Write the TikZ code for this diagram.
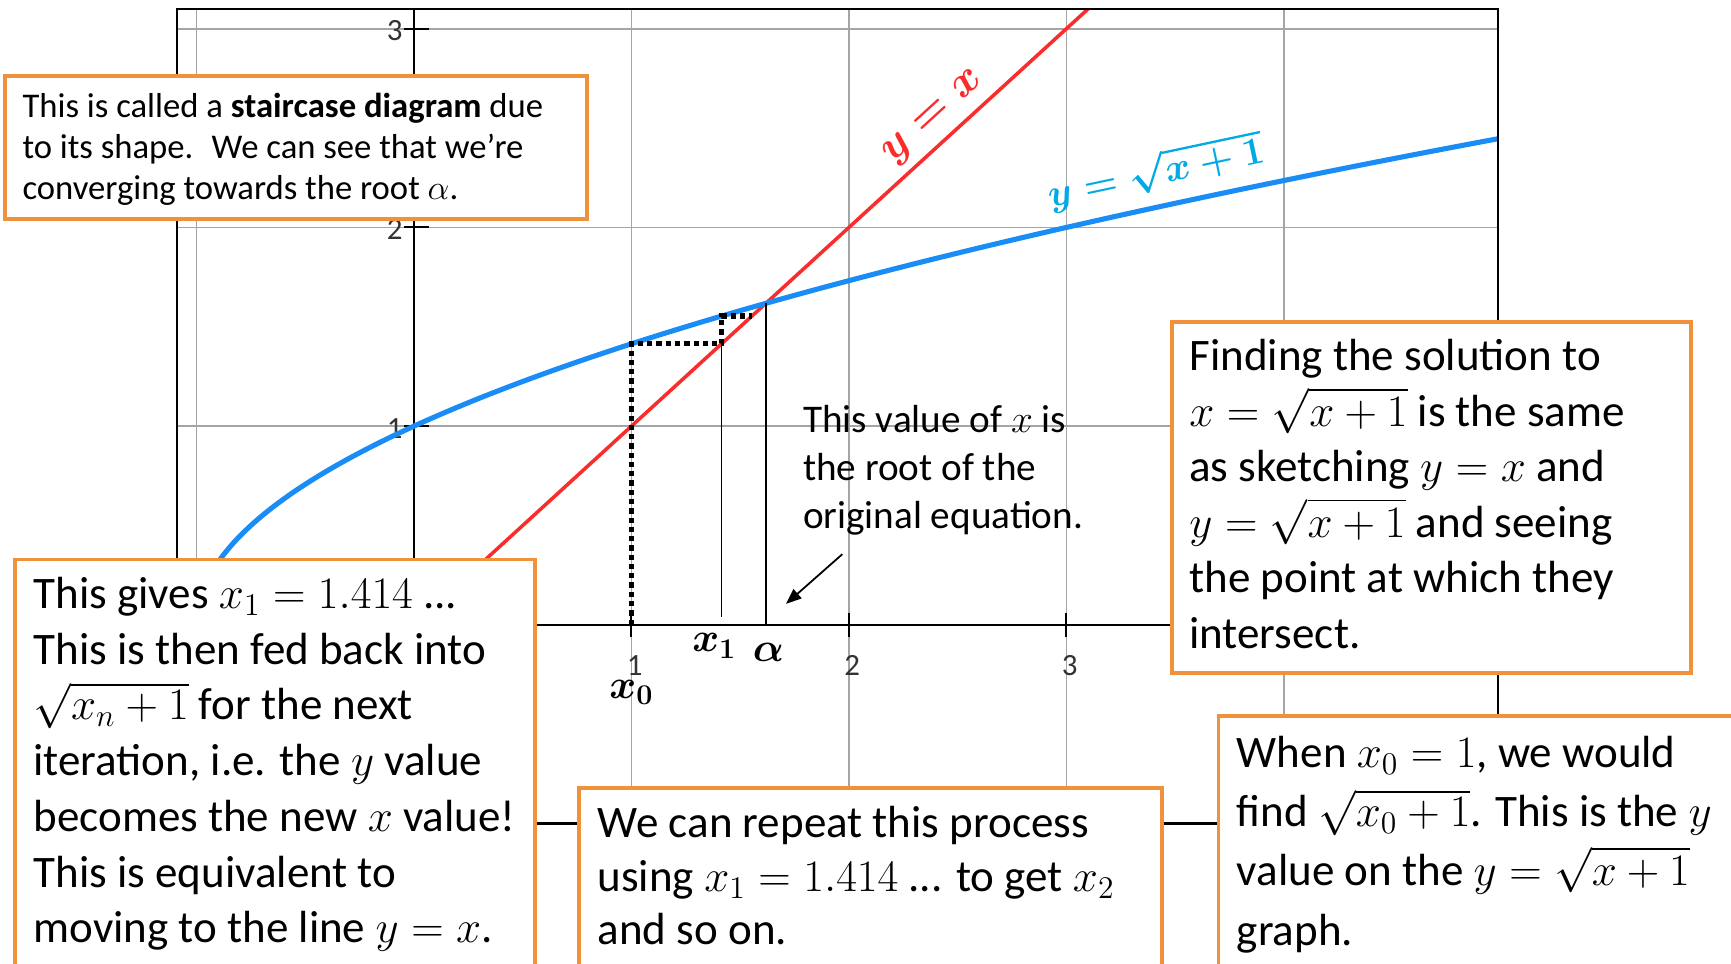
\RequirePackage{fix-cm}
\documentclass[tikz,border=0pt]{standalone}
\usepackage{amsmath}
\usepackage{fontspec}
\setmainfont{Carlito}
\usetikzlibrary{arrows.meta}

\definecolor{boxorange}{RGB}{240,145,60}
\definecolor{curveblue}{RGB}{25,140,245}
\definecolor{labelblue}{RGB}{0,170,230}
\definecolor{linered}{RGB}{250,45,45}
\definecolor{gridgray}{RGB}{165,165,165}

\newcommand{\notepar}[4]{\parbox[t]{#1}{\fontsize{#2}{#3}\selectfont\lineskiplimit=-100pt\raggedright #4}}

\tikzset{
  gridline/.style={draw=gridgray, line width=0.8pt},
  frameline/.style={draw=black, line width=1pt},
  axisline/.style={draw=black, line width=0.9pt},
  tickline/.style={draw=black, line width=0.9pt},
  ticklabel/.style={font=\fontsize{14pt}{16pt}\selectfont, text=black!80, inner sep=0pt},
  redcurve/.style={draw=linered, line width=1.6pt},
  bluecurve/.style={draw=curveblue, line width=2.3pt},
  stair/.style={draw=black, line width=2.4pt, dash pattern=on 2.4pt off 1.8pt},
  thinline/.style={draw=black, line width=0.6pt},
  arrowline/.style={draw=black, line width=0.8pt, -{Triangle[length=7pt,width=5.5pt]}},
  notebox/.style={draw=boxorange, line width=1.6pt, fill=white, anchor=north west, inner sep=0pt},
  notetext/.style={anchor=base west, inner sep=0pt},
  ptlabel/.style={inner sep=0pt, font=\fontsize{18.5pt}{20pt}\selectfont\boldmath},
}

\begin{document}
\begin{tikzpicture}[x=0.5pt, y=-0.5pt]
\useasboundingbox[fill=white] (0,0) rectangle (1568,873);

\begin{scope}[shift={(375,566)}, x=98.5pt, y=90pt]
  % grid
  \foreach \i in {-1,...,4} \draw[gridline] (\i,-1) -- (\i,3.1);
  \foreach \j in {0,...,3} \draw[gridline] (-1.091,\j) -- (4.985,\j);
  % axes
  \draw[axisline] (-1.091,0) -- (4.985,0);
  \draw[axisline] (0,-1) -- (0,3.1);
  \foreach \j in {1,2,3} {
    \draw[tickline] ([xshift=-4.5pt]0,\j) -- ([xshift=7pt]0,\j);
    \node[ticklabel, anchor=east] (yl\j) at ([xshift=-5pt,yshift=-1pt]0,\j) {\j};
  }
  \foreach \i in {1,2,3} {
    \draw[tickline] ([yshift=-5.5pt]\i,0) -- ([yshift=5.5pt]\i,0);
    \node[ticklabel] (xl\i) at ([xshift=1.5pt,yshift=-18.5pt]\i,0) {\i};
  }
  % curves
  \begin{scope}
    \clip (-1.091,-1) rectangle (4.985,3.1);
    \draw[redcurve] (-1,-1) -- (3.2,3.2);
    \draw[bluecurve] plot[domain=0:2.4465, samples=120, smooth] ({\x*\x-1},\x);
  \end{scope}
  \draw[frameline] (-1.091,-1) rectangle (4.985,3.1);
  % staircase
  \coordinate (s0) at (1,0);
  \coordinate (s1) at (1,1.41421);
  \coordinate (s2) at (1.41421,1.41421);
  \coordinate (s3) at (1.41421,1.55377);
  \coordinate (s4) at (1.55377,1.55377);
  \draw[stair] (s0) -- (s1) -- (s2) -- (s3) -- (s4);
  \coordinate (x1bot) at (1.41421,0.04);
  \coordinate (abot) at (1.618034,0);
  \coordinate (atop) at (1.618034,1.618034);
  \draw[thinline] (x1bot) -- (s2);
  \draw[thinline] (abot) -- (atop);
  % point labels
  \node[ptlabel] (lx1) at (1.381,-0.106) {$x_1$};
  \node[ptlabel] (lal) at (1.63,-0.14) {$\alpha$};
  \node[ptlabel] (lx0) at (1.0,-0.339) {$x_0$};
  % curve labels
  \node[text=linered, rotate=42.4, inner sep=0pt, font=\fontsize{20pt}{24pt}\selectfont\boldmath] (lblred) at (2.395,2.55) {$y=x$};
  \node[text=labelblue, rotate=12, inner sep=0pt, font=\fontsize{17.5pt}{22pt}\selectfont\boldmath] (lblblue) at (3.41,2.28) {$y=\sqrt{x+1}$};
\end{scope}

% annotation
\node[notetext] (note) at (727,392) {\notepar{150pt}{17.75pt}{21.75pt}{This value of $x$ is\\ the root of the\\ original equation.}};
\coordinate (arrS) at (763,502);
\coordinate (arrE) at (712,547);
\draw[arrowline] (arrS) -- (arrE);

% boxes
\node[notebox, minimum width=263.5pt, minimum height=65pt] (b1) at (3,67) {};
\node[notetext] (b1t) at (20,106) {\notepar{260pt}{15.7pt}{18.75pt}{This is called a \textbf{staircase diagram} due\\ to its shape.~ We can see that we're\\ converging towards the root $\alpha$.}};

\node[notebox, minimum width=235pt, minimum height=159pt] (b2) at (1060,290) {};
\node[notetext] (b2t) at (1077,336) {\notepar{230pt}{20.4pt}{25.1pt}{Finding the solution to\\ $x=\sqrt{x+1}$ is the same\\ as sketching $y=x$ and\\ $y=\sqrt{x+1}$ and seeing\\ the point at which they\\ intersect.}};

\node[notebox, minimum width=235.5pt, minimum height=192.5pt] (b4) at (12,505) {};
\node[notetext] (b4t) at (30,551) {\notepar{232pt}{20.4pt}{25.25pt}{This gives $x_1=1.414$ ...\\ This is then fed back into\\ $\sqrt{x_n+1}$ for the next\\ iteration, i.e. the $y$ value\\ becomes the new $x$ value!\\ This is equivalent to\\ moving to the line $y=x$.}};

\node[notebox, minimum width=264pt, minimum height=89pt] (b5) at (523,712) {};
\node[notetext] (b5t) at (541,759) {\notepar{260pt}{20.4pt}{24.25pt}{We can repeat this process\\ using $x_1=1.414$ ... to get $x_2$\\ and so on.}};

\node[notebox, minimum width=249pt, minimum height=121.5pt] (b6) at (1102,647) {};
\node[notetext] (b6t) at (1120,695) {\notepar{245pt}{20.4pt}{26.85pt}{When $x_0=1$, we would\\ find $\sqrt{x_0+1}$. This is the $y$\\ value on the $y=\sqrt{x+1}$\\ graph.}};
\end{tikzpicture}
\end{document}
